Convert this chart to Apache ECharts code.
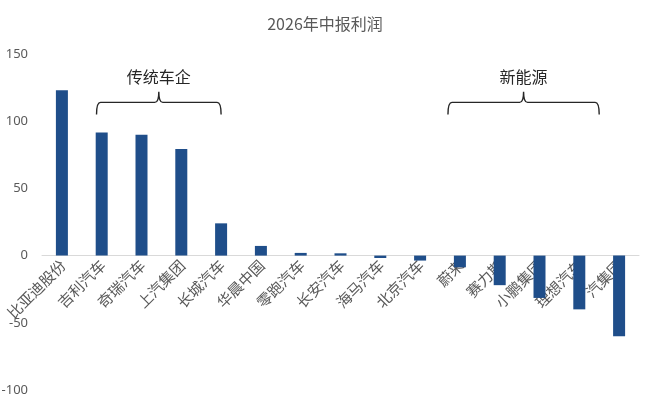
<!DOCTYPE html>
<html>
<head>
<meta charset="utf-8">
<script src="https://cdn.jsdelivr.net/npm/echarts@6/dist/echarts.min.js"></script>
<style>
    html, body { margin: 0; padding: 0; background: #fff; }
    #main { width: 650px; height: 407px; }
</style>
</head>
<body>
<div id="main"></div>
<script>
// 公司名称
var companies = ['比亚迪股份', '吉利汽车', '奇瑞汽车', '上汽集团', '长城汽车', '华晨中国', '零跑汽车',
    '长安汽车', '海马汽车', '北京汽车', '蔚来', '赛力斯', '小鹏集团', '理想汽车', '广汽集团'];
// 2026年中报利润
var profits = [123, 91.5, 90, 79.3, 24, 7.2, 2, 1.7, -1.8, -3.7, -8.7, -22, -31.5, -40, -60];
var yTicks = [-100, -50, 0, 50, 100, 150];

// 分组括号 (起止为类目序号, 可带小数)
var groupNames = ['传统车企', '新能源'];
var groupFrom = [0.87, 9.7];
var groupTo = [4.0, 13.5];

var mychart = echarts.init(document.getElementById('main'));

function renderBrace(params, api) {
    var i = params.dataIndex;
    var base = api.coord([0, 0])[0];
    var bw = api.size([1, 0])[0];
    var x1 = base + groupFrom[i] * bw;
    var x2 = base + groupTo[i] * bw;
    var xm = (x1 + x2) / 2;
    var yLine = api.coord([0, 114])[1];
    var yEnd = api.coord([0, 105])[1];
    var yTip = api.coord([0, 122])[1];
    var yText = api.coord([0, 133])[1];
    var r = 4;
    var d = 'M' + x1 + ',' + yEnd +
        ' Q' + x1 + ',' + yLine + ' ' + (x1 + r) + ',' + yLine +
        ' L' + (xm - r) + ',' + yLine +
        ' Q' + xm + ',' + yLine + ' ' + xm + ',' + yTip +
        ' Q' + xm + ',' + yLine + ' ' + (xm + r) + ',' + yLine +
        ' L' + (x2 - r) + ',' + yLine +
        ' Q' + x2 + ',' + yLine + ' ' + x2 + ',' + yEnd;
    return {
        type: 'group',
        children: [
            {
                type: 'path',
                shape: { pathData: d },
                style: { fill: null, stroke: '#262626', lineWidth: 1.4 }
            },
            {
                type: 'text',
                x: xm,
                y: yText,
                style: {
                    text: groupNames[i],
                    fill: '#262626',
                    font: '16px "Noto Sans CJK SC"',
                    align: 'center',
                    verticalAlign: 'middle'
                }
            }
        ]
    };
}

// 类目标签: 贴着0线斜放, 压在柱子下面(像Excel那样)
function renderCatLabel(params, api) {
    var p = api.coord([api.value(0), 0]);
    return {
        type: 'text',
        x: p[0] + 1,
        y: p[1] + 7,
        rotation: Math.PI / 4,
        style: {
            text: companies[params.dataIndex],
            fill: '#595959',
            font: '15px "Noto Sans CJK SC"',
            align: 'right',
            verticalAlign: 'middle'
        }
    };
}

// y轴刻度文字 (自己画, 免得被斜放的类目标签挡掉)
function renderYLabel(params, api) {
    var p = api.coord([0, api.value(1)]);
    var left = p[0] - api.size([1, 0])[0] / 2;
    return {
        type: 'text',
        x: left - 14,
        y: p[1],
        style: {
            text: String(yTicks[params.dataIndex]),
            fill: '#595959',
            font: '13px "Noto Sans"',
            align: 'right',
            verticalAlign: 'middle'
        }
    };
}

var option = {
    animation: false,
    title: {
        text: '2026年中报利润',
        left: 'center',
        top: 11,
        textStyle: {
            color: '#595959',
            fontSize: 16,
            fontWeight: 'normal',
            fontFamily: 'Noto Sans CJK SC'
        }
    },
    grid: {
        left: 42,
        right: 11,
        top: 54,
        bottom: 17,
        containLabel: false,
        outerBoundsMode: 'none'
    },
    xAxis: {
        type: 'category',
        data: companies,
        axisLine: {
            onZero: true,
            lineStyle: { color: '#d9d9d9', width: 1 }
        },
        axisTick: { show: false },
        axisLabel: { show: false }
    },
    yAxis: {
        type: 'value',
        min: yTicks[0],
        max: yTicks[yTicks.length - 1],
        interval: 50,
        axisLine: { show: false },
        axisTick: { show: false },
        splitLine: { show: false },
        axisLabel: { show: false }
    },
    series: [
        {
            type: 'custom',
            renderItem: renderYLabel,
            silent: true,
            clip: false,
            z: 1,
            data: yTicks.map(function (v) { return [0, v]; })
        },
        {
            type: 'custom',
            renderItem: renderCatLabel,
            silent: true,
            clip: false,
            z: 1,
            data: companies.map(function (c, i) { return [i, 0]; })
        },
        {
            name: '利润',
            type: 'bar',
            barWidth: 12,
            z: 2,
            itemStyle: { color: '#1f4e8a' },
            data: profits
        },
        {
            type: 'custom',
            renderItem: renderBrace,
            silent: true,
            clip: false,
            z: 3,
            data: groupNames.map(function () { return [0, 0]; })
        }
    ]
};
mychart.setOption(option);
</script>
</body>
</html>
